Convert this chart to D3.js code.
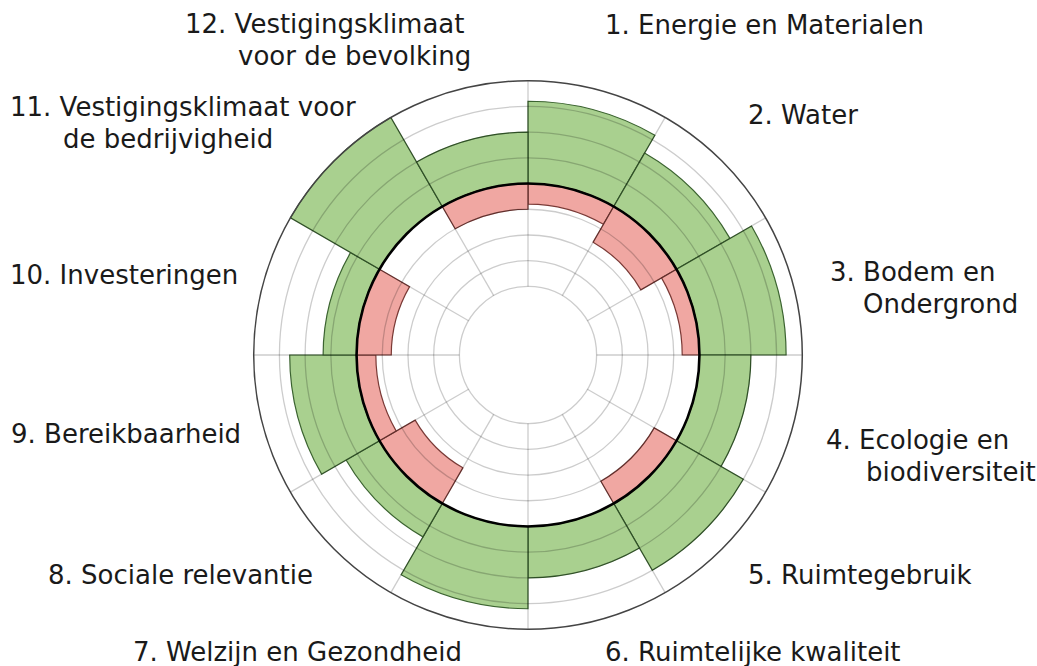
<!DOCTYPE html>
<html>
<head>
<meta charset="utf-8">
<script src="https://cdn.jsdelivr.net/npm/d3@7"></script>
<style>
  html, body { margin: 0; padding: 0; background: #fff; }
  svg { display: block; }
</style>
</head>
<body>
<div id="chart"></div>
<script>
// Data: one score per theme, positive part (green) and negative part (red)
var themes = [
  ["1. Energie en Materialen"],
  ["2. Water"],
  ["3. Bodem en", "Ondergrond"],
  ["4. Ecologie en", "biodiversiteit"],
  ["5. Ruimtegebruik"],
  ["6. Ruimtelijke kwaliteit"],
  ["7. Welzijn en Gezondheid"],
  ["8. Sociale relevantie"],
  ["9. Bereikbaarheid"],
  ["10. Investeringen"],
  ["11. Vestigingsklimaat voor", "de bedrijvigheid"],
  ["12. Vestigingsklimaat", "voor de bevolking"]
]
var positives = [3.2, 2.4, 3.37, 2.0, 3.0, 2.0, 3.2, 1.5, 2.6, 1.3, 4.0, 2.0]
var negatives = [-0.8, -1.6, -0.67, 0, -1.0, 0, 0, -1.6, -0.75, -1.35, 0, -1.0]
var ringTicks = [-4, -3, -2, -1, 0, 1, 2, 3, 4]

// Label placement: x of each line, y of first baseline
var labelPos = [
  {xs: [605], y: 34},
  {xs: [748], y: 124},
  {xs: [830, 863], y: 281},
  {xs: [826, 866], y: 449},
  {xs: [748], y: 584},
  {xs: [605], y: 661},
  {xs: [133], y: 661},
  {xs: [48], y: 584},
  {xs: [11], y: 443},
  {xs: [10], y: 284},
  {xs: [10, 63], y: 116},
  {xs: [185, 238], y: 33}
]

var width = 1037, height = 666
var cx = 528, cy = 355

var svg = d3.select("#chart").append("svg")
  .attr("width", width)
  .attr("height", height)

var g = svg.append("g")
  .attr("transform", "translate(" + cx + "," + cy + ")")

var r = d3.scaleLinear()
  .domain([-4, 4])
  .range([68.6, 274.3])

var angle = d3.scaleBand()
  .domain(d3.range(themes.length))
  .range([0, 2 * Math.PI])

var rows = themes.map(function(t, i){
  return {i: i, pos: positives[i], neg: negatives[i]}
})

var arc = d3.arc()

// Green bars (outward from baseline)
g.selectAll(".pos")
  .data(rows.filter(function(d){ return d.pos > 0 }))
  .enter().append("path")
    .attr("class", "pos")
    .attr("d", function(d){
      return arc({innerRadius: r(0), outerRadius: r(d.pos),
        startAngle: angle(d.i), endAngle: angle(d.i) + angle.bandwidth()})
    })
    .style("fill", "#a9d08f")
    .style("stroke", "#3b6330")
    .style("stroke-width", 1.2)

// Red bars (inward from baseline)
g.selectAll(".neg")
  .data(rows.filter(function(d){ return d.neg < 0 }))
  .enter().append("path")
    .attr("class", "neg")
    .attr("d", function(d){
      return arc({innerRadius: r(d.neg), outerRadius: r(0),
        startAngle: angle(d.i), endAngle: angle(d.i) + angle.bandwidth()})
    })
    .style("fill", "#f0a7a2")
    .style("stroke", "#7a3a36")
    .style("stroke-width", 1.2)

// Grid on top, translucent black
g.selectAll(".ring")
  .data(ringTicks.filter(function(t){ return t !== 0 && t !== 4 }))
  .enter().append("circle")
    .attr("class", "ring")
    .attr("r", function(d){ return r(d) })
    .style("fill", "none")
    .style("stroke", "#000")
    .style("stroke-opacity", 0.2)
    .style("stroke-width", 1.3)

g.selectAll(".spoke")
  .data(d3.range(themes.length))
  .enter().append("line")
    .attr("class", "spoke")
    .attr("x1", function(d){ return r(-4) * Math.sin(angle(d)) })
    .attr("y1", function(d){ return -r(-4) * Math.cos(angle(d)) })
    .attr("x2", function(d){ return r(4) * Math.sin(angle(d)) })
    .attr("y2", function(d){ return -r(4) * Math.cos(angle(d)) })
    .style("stroke", "#000")
    .style("stroke-opacity", 0.2)
    .style("stroke-width", 1.3)

// Outer frame
g.append("circle")
  .attr("r", r(4))
  .style("fill", "none")
  .style("stroke", "#444")
  .style("stroke-width", 1.5)

// Baseline
g.append("circle")
  .attr("r", r(0))
  .style("fill", "none")
  .style("stroke", "#000")
  .style("stroke-width", 2.6)

// Labels
var lbl = svg.selectAll(".label")
  .data(themes)
  .enter().append("text")
    .attr("class", "label")
    .style("font-family", "'DejaVu Sans', Verdana, sans-serif")
    .style("font-size", "26px")
    .style("fill", "#1a1a1a")

lbl.selectAll("tspan")
  .data(function(d, i){ return d.map(function(line, k){ return {line: line, k: k, p: labelPos[i]} }) })
  .enter().append("tspan")
    .attr("x", function(d){ return d.p.xs[d.k] })
    .attr("y", function(d){ return d.p.y + d.k * 32 })
    .text(function(d){ return d.line })
</script>
</body>
</html>
